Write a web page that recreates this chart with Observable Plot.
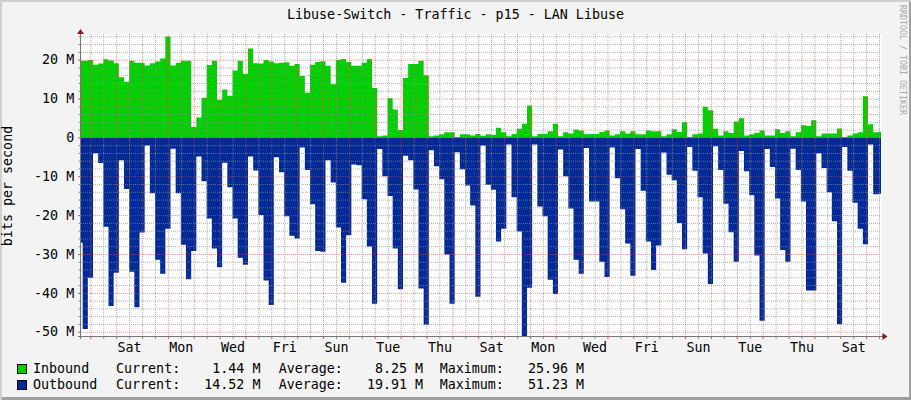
<!DOCTYPE html>
<html>
<head>
<meta charset="utf-8">
<script src="https://cdn.jsdelivr.net/npm/d3@7"></script>
<script src="https://cdn.jsdelivr.net/npm/@observablehq/plot@0.6"></script>
<style>
  html, body { margin: 0; padding: 0; background: #f3f3f3; }
  #root { position: relative; width: 911px; height: 400px; overflow: hidden; background: #f3f3f3;
    box-shadow: inset 2px 2px 0 #cfcfcf, inset -2px -3px 0 #9e9e9e;
    font-family: "DejaVu Sans Mono", monospace; font-size: 13.33px; color: #000; }
  #root svg { position: absolute; left: 0; top: 0; }
  .t { position: absolute; white-space: pre; line-height: 16px; }
  .box { position: absolute; width: 10px; height: 10px; box-sizing: border-box; border: 1px solid #000; }
</style>
</head>
<body>
<div id="root"></div>
<script>
// ---- text ----
const title = "Libuse-Switch - Traffic - p15 - LAN Libuse";
const yAxisTitle = "bits per second";
const watermark = "RRDTOOL / TOBI OETIKER";

// ---- legend ----
const seriesNames = ["Inbound", "Outbound"];
const seriesColors = ["#00cf00", "#002a97"];
const currentValues = [1.44, 14.52];
const averageValues = [8.25, 19.91];
const maximumValues = [25.96, 51.23];

// ---- series values (M bits/s), one per consolidation step ----
const inbound = [
  19.7, 19.7, 19.9, 18.7, 19.0, 20.1, 19.8, 19.1, 15.5, 14.3,
  19.7, 19.2, 19.2, 18.5, 19.1, 19.5, 20.3, 25.96, 18.5, 19.2,
  19.7, 19.7, 2.7, 5.1, 10.2, 18.6, 19.7, 9.7, 12.3, 10.7,
  17.2, 19.7, 16.4, 22.9, 19.1, 19.0, 19.9, 19.5, 19.1, 19.2,
  19.3, 18.4, 18.9, 15.8, 11.5, 18.7, 19.4, 19.6, 18.4, 13.7,
  20.0, 20.2, 19.4, 18.4, 18.4, 19.2, 20.2, 12.7, 0.3, 0.5,
  10.1, 7.2, 1.9, 15.3, 18.9, 18.9, 19.7, 16.0, 0.3, 0.5,
  0.8, 1.3, 1.3, 0.1, 0.8, 0.8, 0.5, 0.9, 0.4, 0.8,
  0.6, 2.5, 1.3, 0.3, 0.9, 2.2, 3.5, 8.2, 0.3, 0.9,
  0.9, 1.6, 3.5, 0.3, 1.3, 1.0, 2.0, 1.8, 0.8, 0.9,
  0.9, 1.4, 1.8, 0.5, 0.8, 1.6, 1.0, 1.6, 0.8, 0.8,
  1.8, 1.6, 1.6, 0.3, 0.8, 2.1, 1.4, 3.9, 0.1, 0.8,
  1.0, 7.9, 7.0, 2.2, 0.5, 1.6, 1.1, 4.1, 4.9, 0.5,
  0.8, 1.2, 1.8, 0.5, 0.5, 2.1, 1.1, 1.6, 0.3, 1.3,
  3.1, 2.9, 4.4, 0.3, 1.0, 1.0, 1.0, 2.3, 0.1, 0.5,
  1.0, 1.3, 10.6, 3.4, 1.3, 1.44
];
const outbound = [
  27.1, 49.3, 36.1, 4.1, 6.6, 23.0, 43.4, 34.8, 5.9, 13.3,
  34.6, 43.7, 24.5, 2.1, 14.4, 31.5, 35.1, 23.5, 2.9, 14.4,
  27.6, 36.5, 29.2, 4.9, 11.3, 20.9, 28.6, 33.4, 6.5, 12.8,
  20.9, 31.0, 32.8, 4.9, 8.5, 20.0, 36.8, 43.1, 5.1, 9.0,
  20.3, 25.3, 26.0, 2.6, 8.4, 17.2, 29.2, 29.4, 5.9, 11.6,
  23.2, 37.4, 25.2, 7.0, 7.2, 15.9, 28.1, 42.8, 3.0, 10.0,
  15.1, 28.6, 39.1, 4.7, 5.9, 13.4, 38.9, 48.2, 3.3, 7.4,
  10.8, 30.1, 42.8, 3.8, 8.2, 12.4, 17.5, 41.0, 2.1, 12.2,
  13.5, 26.8, 23.5, 1.8, 15.4, 24.2, 51.23, 38.7, 1.8, 17.8,
  20.3, 36.6, 40.3, 3.1, 10.0, 18.3, 31.5, 35.1, 2.7, 16.5,
  16.5, 32.0, 35.9, 2.6, 10.5, 18.5, 27.3, 35.6, 3.0, 13.7,
  26.8, 34.1, 27.8, 3.9, 9.6, 11.0, 22.0, 28.8, 2.5, 8.6,
  15.4, 29.9, 37.7, 2.3, 8.4, 17.1, 24.4, 32.0, 3.5, 8.7,
  14.9, 30.4, 47.2, 3.0, 7.6, 15.7, 29.0, 32.0, 2.9, 8.4,
  16.5, 39.4, 39.4, 4.1, 7.9, 14.1, 21.6, 48.0, 2.5, 8.6,
  16.8, 23.5, 27.5, 1.8, 14.6, 14.52
];

// ---- axes ----
const yMajorTicks = [20, 10, 0, -10, -20, -30, -40, -50];
const yDomain = [-51.23, 26.6];
const graphStart = Date.UTC(2024, 1, 1, 15, 22);   // Thursday afternoon
const graphDays = 30.936;
const firstStepEnd = Date.UTC(2024, 1, 1, 16, 55);
const stepHours = 4.795;
const firstLabelNoon = Date.UTC(2024, 1, 3, 12);   // first "Sat" label

// ---- build ----
const HOUR = 3600e3, DAY = 24 * HOUR;
const t0 = new Date(graphStart), t1 = new Date(graphStart + graphDays * DAY);
function steps(values) {
  const pts = values.map((v, i) => ({t: new Date(firstStepEnd + (i - 1) * stepHours * HOUR), v}));
  pts.push({t: new Date(firstStepEnd + (values.length - 1) * stepHours * HOUR), v: values[values.length - 1]});
  return pts;
}
const inData = steps(inbound), outData = steps(outbound);
const midnights = d3.utcDay.range(t0, t1);
const noons = d3.utcDay.range(new Date(+t0 - DAY), t1)
  .map(d => new Date(+d + 12 * HOUR)).filter(d => d >= t0 && d <= t1);
const labelDays = noons.filter(d => ((Math.round((d - firstLabelNoon) / DAY) % 2) + 2) % 2 === 0);
const yMinor = d3.range(-50, 27, 2).filter(v => v % 10 !== 0);
const MAJOR = "#de5050", MINOR = "#8f8f8f";

const chart = Plot.plot({
  width: 911, height: 362,
  marginLeft: 81, marginRight: 30, marginTop: 34, marginBottom: 25.5,
  style: {background: "transparent", fontFamily: '"DejaVu Sans Mono", monospace', fontSize: "13.33px", color: "#000", overflow: "visible"},
  x: {type: "utc", domain: [t0, t1]},
  y: {domain: yDomain},
  marks: [
    Plot.frame({fill: "#fff", stroke: "none"}),
    Plot.areaY(inData, {x: "t", y: "v", curve: "step-after", fill: seriesColors[0], clip: true}),
    Plot.areaY(outData, {x: "t", y: d => -d.v, curve: "step-after", fill: seriesColors[1], clip: true}),
    Plot.ruleY(yMinor, {stroke: MINOR, strokeOpacity: 0.7, strokeDasharray: "1,1"}),
    Plot.ruleX(noons, {stroke: MINOR, strokeOpacity: 0.7, strokeDasharray: "1,1"}),
    Plot.ruleY(yMajorTicks, {stroke: MAJOR, strokeOpacity: 0.6, strokeDasharray: "1,1"}),
    Plot.ruleX(midnights, {stroke: MAJOR, strokeOpacity: 0.6, strokeDasharray: "1,1"}),
    Plot.axisY({ticks: yMinor, tickSize: 2.5, stroke: MINOR, fill: "none", tickFormat: () => "", label: null}),
    Plot.axisY({ticks: yMajorTicks, tickSize: 3, tickPadding: 4.3, stroke: MAJOR, fill: "#000",
      tickFormat: v => v === 0 ? "0" : `${v} M`, label: null}),
    Plot.axisX({ticks: noons, tickSize: 2.5, stroke: MINOR, fill: "none", tickFormat: () => "", label: null}),
    Plot.axisX({ticks: midnights, tickSize: 2.5, stroke: MAJOR, fill: "none", tickFormat: () => "", label: null}),
    Plot.axisX({ticks: labelDays, tickSize: 0, tickPadding: 5.7, fill: "#000", tickFormat: d3.utcFormat("%a"), label: null})
  ]
});

// axis lines and arrows (RRDtool style), placed from the chart's own scales
const [xl, xr] = chart.scale("x").range;
const [yb, yt] = chart.scale("y").range;
const g = d3.select(chart).append("g");
g.append("line").attr("x1", xl - 0.5).attr("x2", xl - 0.5).attr("y1", yb + 2.5).attr("y2", yt - 2)
  .attr("stroke", "#777");
g.append("line").attr("x1", xl - 3).attr("x2", xr + 3).attr("y1", yb).attr("y2", yb)
  .attr("stroke", "#777");
g.append("polygon").attr("fill", "#801f1f")
  .attr("points", `${xl - 0.5},${yt - 5} ${xl - 4},${yt} ${xl + 3},${yt}`);
g.append("polygon").attr("fill", "#801f1f")
  .attr("points", `${xr + 6.5},${yb} ${xr + 1.5},${yb - 3.5} ${xr + 1.5},${yb + 3.5}`);

const root = document.getElementById("root");
root.appendChild(chart);

function addText(text, css) {
  const d = document.createElement("div");
  d.className = "t";
  d.textContent = text;
  Object.assign(d.style, css);
  root.appendChild(d);
  return d;
}
// title
addText(title, {left: "0px", width: "911px", textAlign: "center", top: "6.7px"});
// y axis title
addText(yAxisTitle, {left: "-62.3px", top: "178px", width: "140px", textAlign: "center", transform: "rotate(-90deg)"});
// watermark
addText(watermark, {left: "843.2px", top: "55px", width: "120px", textAlign: "center", fontSize: "8.3px",
  lineHeight: "10px", color: "#aaa", transform: "rotate(90deg)"});
// legend
const fmt = v => v.toFixed(2).padStart(8) + " M";
const boxTops = [364, 379.5];
const rowTops = [360.7, 376.7];
seriesNames.forEach((name, i) => {
  const b = document.createElement("div");
  b.className = "box";
  b.style.left = "17px";
  b.style.top = boxTops[i] + "px";
  b.style.background = seriesColors[i];
  root.appendChild(b);
  addText(name, {left: "33px", top: rowTops[i] + "px"});
  addText("Current:" + fmt(currentValues[i]), {left: "116px", top: rowTops[i] + "px"});
  addText("Average:" + fmt(averageValues[i]), {left: "278.7px", top: rowTops[i] + "px"});
  addText("Maximum:" + fmt(maximumValues[i]), {left: "439.7px", top: rowTops[i] + "px"});
});
</script>
</body>
</html>
